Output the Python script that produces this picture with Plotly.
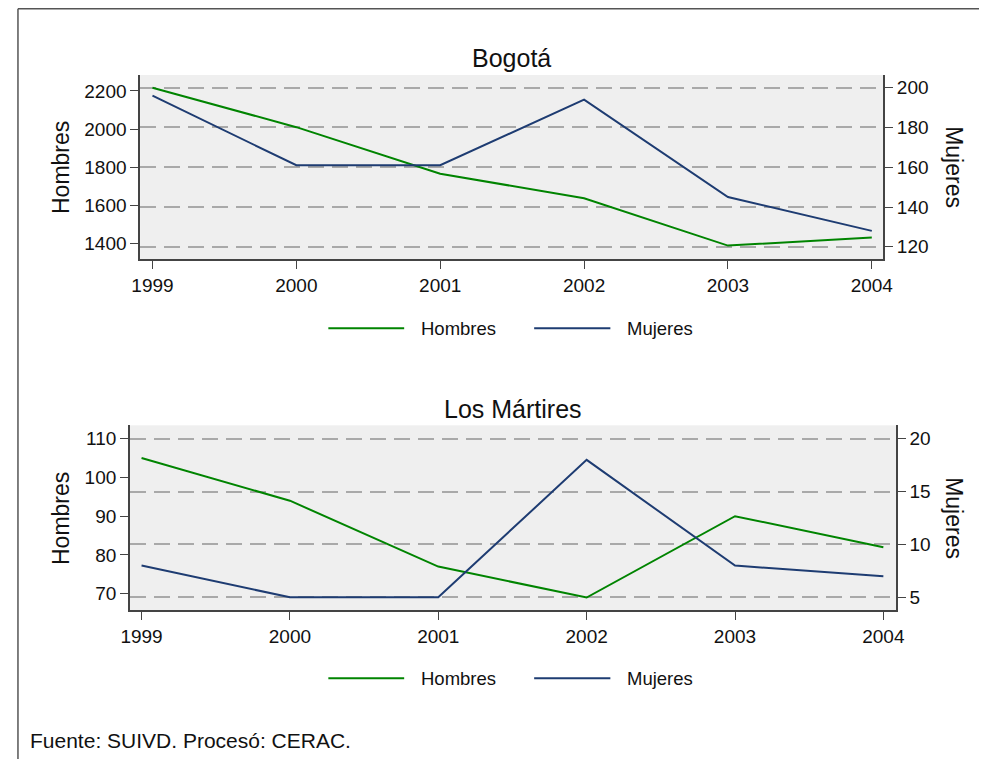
import plotly.graph_objects as go

# page is 997x767 including the 8px default body margin
W, H = 981, 751
OFF_Y = 8
# horizontal calibration measured from previous renders
OFF_X = 15.9
SCALE_X = 0.983

years = [1999, 2000, 2001, 2002, 2003, 2004]
bogota_hombres = [2217, 2010, 1765, 1637, 1388, 1430]
bogota_mujeres = [196, 161, 161, 194, 145, 128]
martires_hombres = [105, 94, 77, 69, 90, 82]
martires_mujeres = [8, 5, 5, 18, 8, 7]

bogota_left_ticks = [1400, 1600, 1800, 2000, 2200]
bogota_right_ticks = [120, 140, 160, 180, 200]
martires_left_ticks = [70, 80, 90, 100, 110]
martires_right_ticks = [5, 10, 15, 20]

titles = ["Bogotá", "Los Mártires"]
series_names = ["Hombres", "Mujeres"]
caption = "Fuente: SUIVD. Procesó: CERAC."

GREEN = "#008400"
BLUE = "#1e3c72"
FONT = "Liberation Sans, Arial, sans-serif"
AXIS_COLOR = "#444444"
GRID_COLOR = "#a9a9a9"


def px(x):
    return min(max(((x - OFF_X) / SCALE_X) / W, 0.0), 1.0)


def py(y):
    return min(max(1 - (y - OFF_Y) / H, 0.0), 1.0)


fig = go.Figure()

fig.add_trace(go.Scatter(x=years, y=bogota_hombres, xaxis="x", yaxis="y", mode="lines",
                         line=dict(color=GREEN, width=2), name=series_names[0], showlegend=False))
fig.add_trace(go.Scatter(x=years, y=bogota_mujeres, xaxis="x", yaxis="y2", mode="lines",
                         line=dict(color=BLUE, width=2), name=series_names[1], showlegend=False))
fig.add_trace(go.Scatter(x=years, y=martires_hombres, xaxis="x2", yaxis="y3", mode="lines",
                         line=dict(color=GREEN, width=2), name=series_names[0], showlegend=False))
fig.add_trace(go.Scatter(x=years, y=martires_mujeres, xaxis="x2", yaxis="y4", mode="lines",
                         line=dict(color=BLUE, width=2), name=series_names[1], showlegend=False))

tickfont = dict(family=FONT, size=19, color="#111111")

common_x = dict(tickvals=years, ticks="outside", ticklen=8, tickwidth=1.3, tickcolor=AXIS_COLOR,
                showline=True, linecolor=AXIS_COLOR, linewidth=1.5, showgrid=False, zeroline=False,
                tickfont=tickfont, fixedrange=True)
common_yl = dict(ticks="outside", ticklen=8, tickwidth=1.3, tickcolor=AXIS_COLOR,
                 showline=True, linecolor=AXIS_COLOR, linewidth=1.5, showgrid=False, zeroline=False,
                 tickfont=tickfont, fixedrange=True)
common_yr = dict(ticks="outside", ticklen=8, tickwidth=1.3, tickcolor=AXIS_COLOR,
                 showline=True, linecolor=AXIS_COLOR, linewidth=1.5, showgrid=True,
                 gridcolor=GRID_COLOR, gridwidth=1.5, griddash="16px,8px", zeroline=False,
                 tickfont=tickfont, fixedrange=True)

top_xdom = [px(139.3), px(884.3)]
top_ydom = [py(259.3), py(75)]
bot_xdom = [px(129), px(897)]
bot_ydom = [py(610), py(425.3)]

fig.update_layout(
    width=W, height=H,
    autosize=False,
    margin=dict(l=0, r=0, t=0, b=0),
    paper_bgcolor="white",
    plot_bgcolor="#efefef",
    font=dict(family=FONT, color="#111111"),
    showlegend=False,
    xaxis=dict(domain=top_xdom, anchor="y", range=[1998.914, 2004.08], **common_x),
    yaxis=dict(domain=top_ydom, anchor="x", range=[1316, 2284], tickvals=bogota_left_ticks, **common_yl),
    yaxis2=dict(overlaying="y", side="right", anchor="x", range=[113.7, 206.4],
                tickvals=bogota_right_ticks, **common_yr),
    xaxis2=dict(domain=bot_xdom, anchor="y3", range=[1998.921, 2004.085], **common_x),
    yaxis3=dict(domain=bot_ydom, anchor="x2", range=[65.79, 113.46], tickvals=martires_left_ticks, **common_yl),
    yaxis4=dict(overlaying="y3", side="right", anchor="x2", range=[3.80, 21.27],
                tickvals=martires_right_ticks, **common_yr),
)

annotations = []
shapes = []

# panel titles
for title, yc, xc in [(titles[0], 58, (139.3 + 884.3) / 2), (titles[1], 409, (129 + 897) / 2)]:
    annotations.append(dict(text=title, x=px(xc), y=py(yc), xref="paper", yref="paper",
                            xanchor="center", yanchor="middle", showarrow=False,
                            font=dict(family=FONT, size=25, color="#111111")))

# axis titles
for yc in [167, 518]:
    annotations.append(dict(text=series_names[0], x=px(60), y=py(yc), xref="paper", yref="paper",
                            xanchor="center", yanchor="middle", showarrow=False, textangle=-90,
                            font=dict(family=FONT, size=23, color="#111111")))
    annotations.append(dict(text=series_names[1], x=px(955), y=py(yc), xref="paper", yref="paper",
                            xanchor="center", yanchor="middle", showarrow=False, textangle=90,
                            font=dict(family=FONT, size=23, color="#111111")))

# custom legends
for ly in [328.3, 678.3]:
    shapes.append(dict(type="line", xref="paper", yref="paper", x0=px(328), x1=px(404),
                       y0=py(ly), y1=py(ly), line=dict(color=GREEN, width=2)))
    shapes.append(dict(type="line", xref="paper", yref="paper", x0=px(534.3), x1=px(610.7),
                       y0=py(ly), y1=py(ly), line=dict(color=BLUE, width=2)))
    annotations.append(dict(text=series_names[0], x=px(419), y=py(ly), xref="paper", yref="paper",
                            xanchor="left", yanchor="middle", showarrow=False,
                            font=dict(family=FONT, size=18.5, color="#111111")))
    annotations.append(dict(text=series_names[1], x=px(625), y=py(ly), xref="paper", yref="paper",
                            xanchor="left", yanchor="middle", showarrow=False,
                            font=dict(family=FONT, size=18.5, color="#111111")))

# caption
annotations.append(dict(text=caption, x=px(27), y=py(740), xref="paper", yref="paper",
                        xanchor="left", yanchor="middle", showarrow=False,
                        font=dict(family=FONT, size=21, color="#111111")))

# outer frame (left & top edges visible)
shapes.append(dict(type="line", xref="paper", yref="paper", x0=0.001, x1=1.0, y0=0.999, y1=0.999,
                   line=dict(color="#555555", width=1.5)))
shapes.append(dict(type="line", xref="paper", yref="paper", x0=0.001, x1=0.001, y0=0.999, y1=0,
                   line=dict(color="#555555", width=1.5)))

fig.update_layout(annotations=annotations, shapes=shapes)

fig.write_html("out.html")
